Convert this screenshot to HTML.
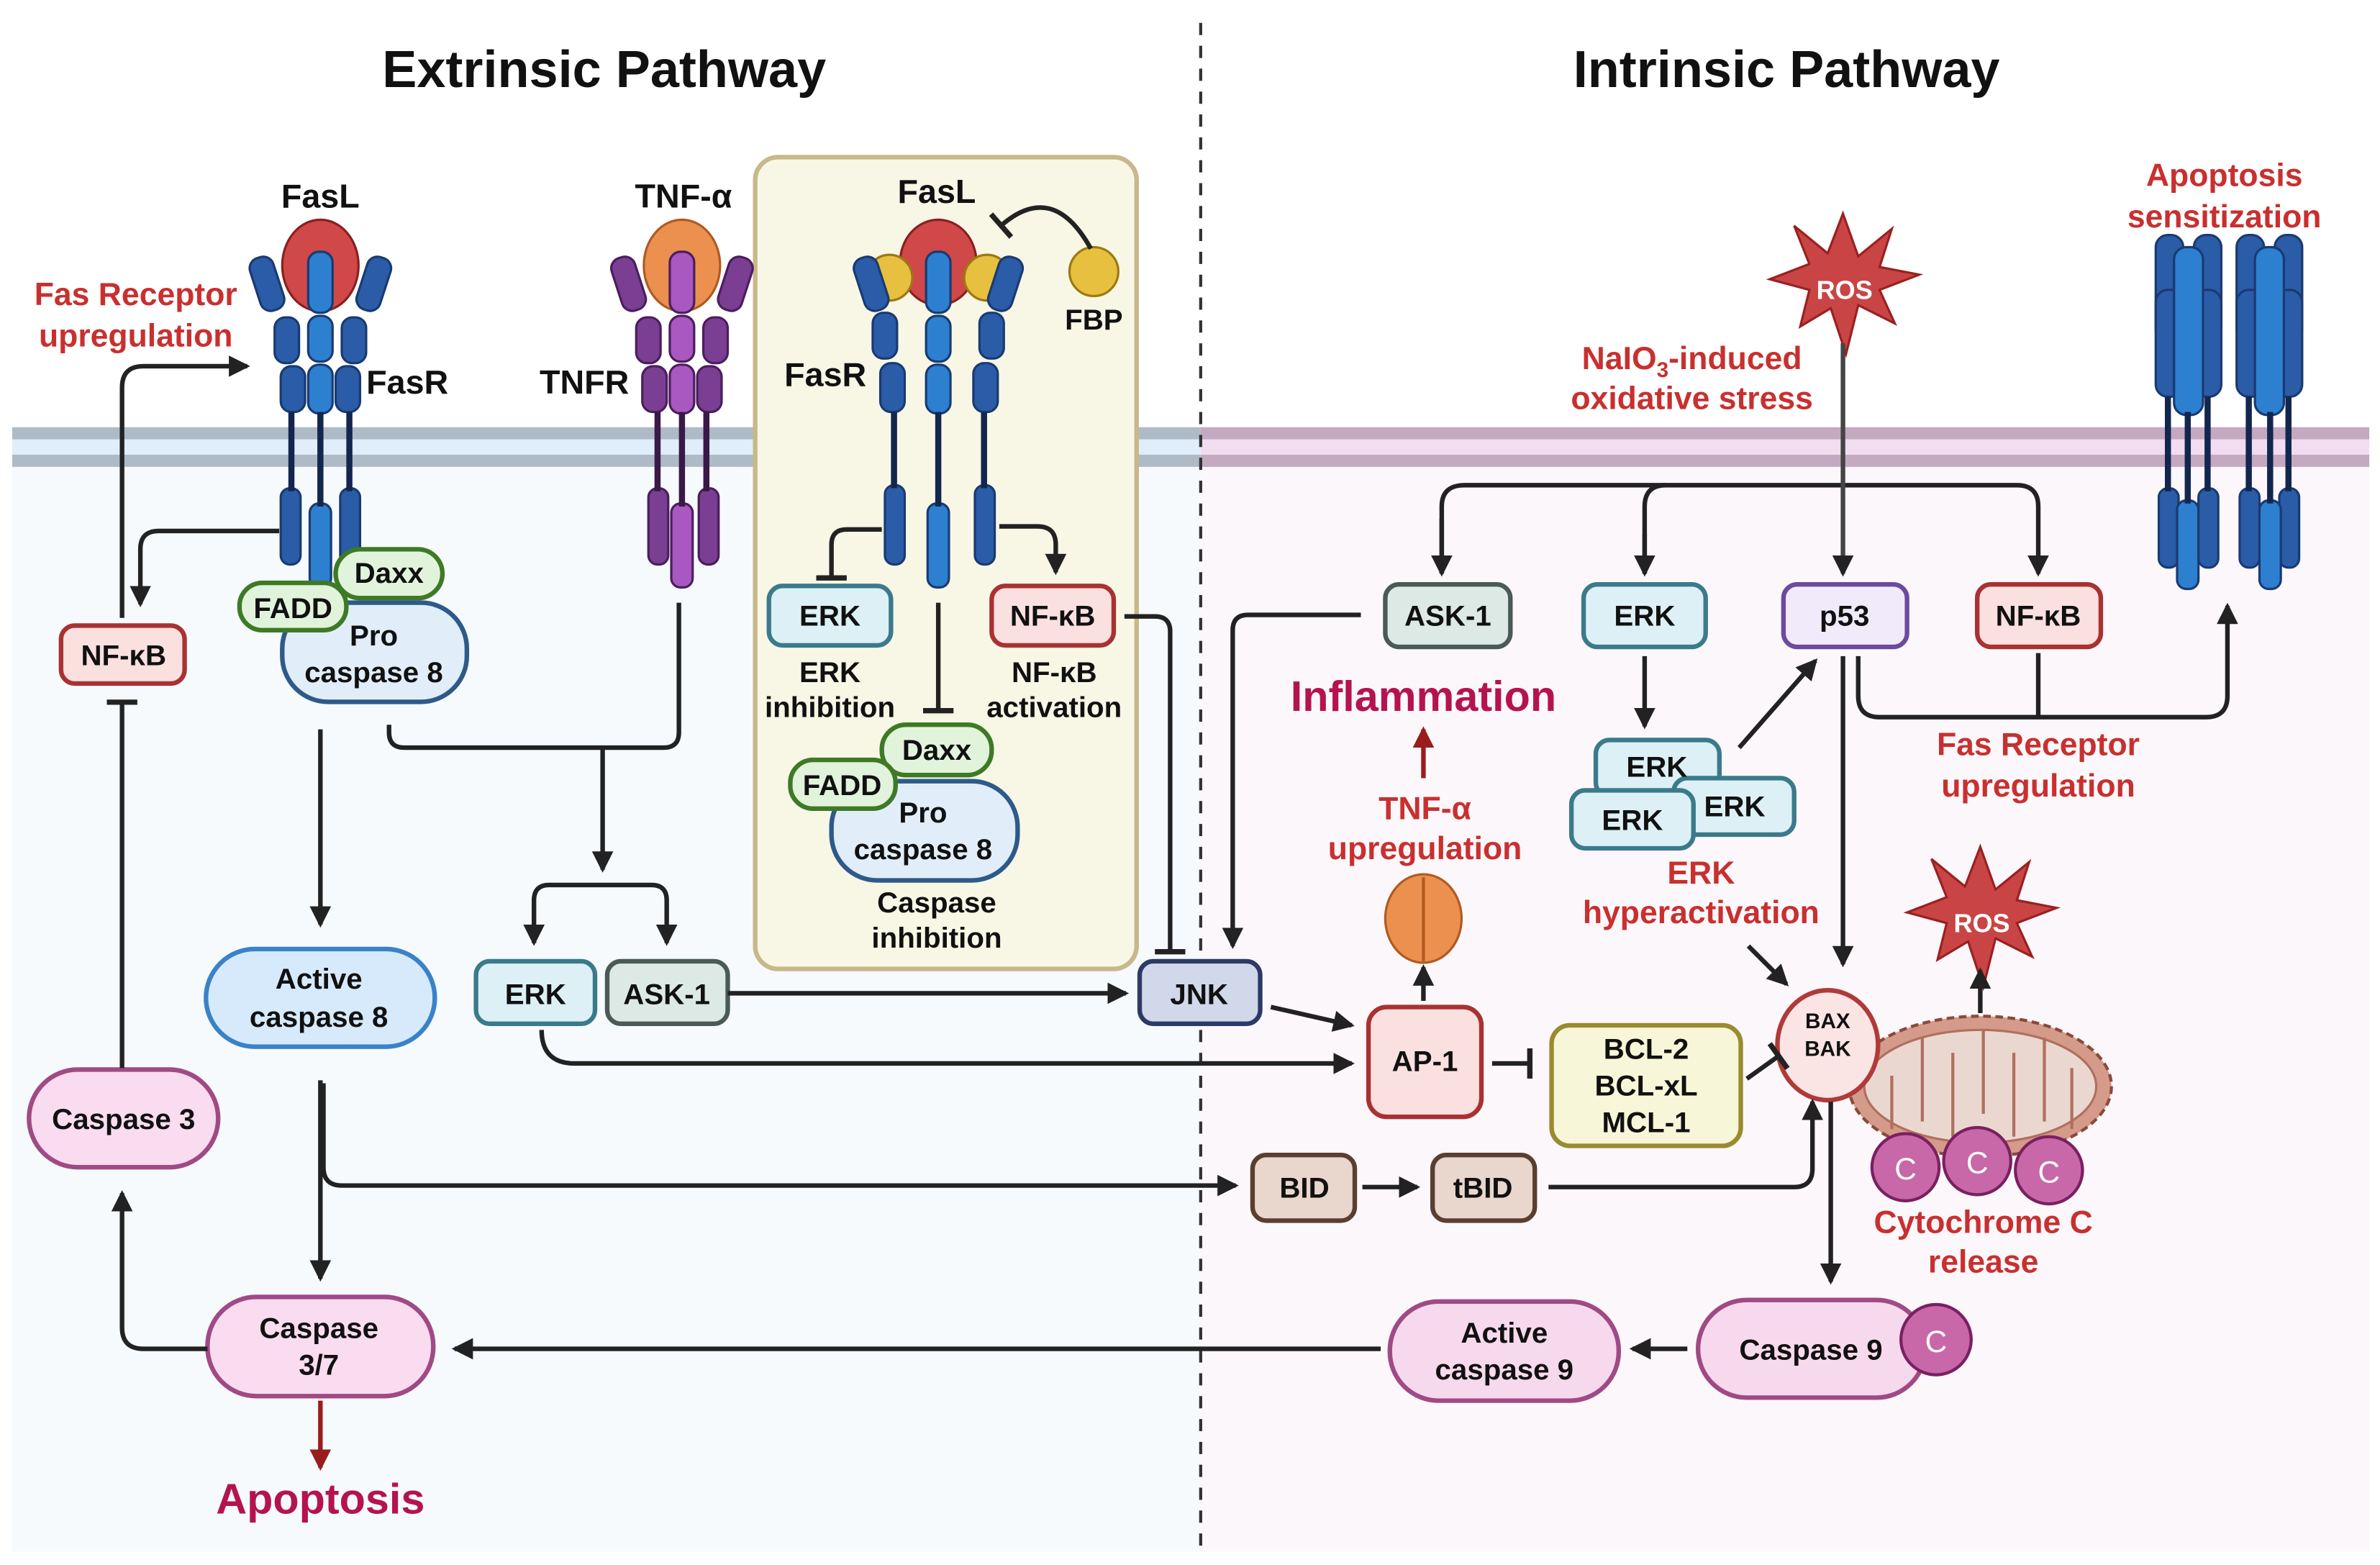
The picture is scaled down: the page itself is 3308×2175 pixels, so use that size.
<!DOCTYPE html>
<html><head><meta charset="utf-8"><style>
html,body{margin:0;padding:0;background:#fff}
svg{display:block}
text{font-family:"Liberation Sans",Arial,sans-serif;font-weight:bold;text-anchor:middle}
.n{font-size:19px;fill:#111}
.r{font-size:21px;fill:#c8302f}
.lb{font-size:22px;fill:#111}
</style></head><body>
<svg width="3308" height="2175" viewBox="0 0 1560 1025.7" xmlns="http://www.w3.org/2000/svg">
<defs>
<marker id="a" markerUnits="userSpaceOnUse" markerWidth="16" markerHeight="16" refX="12" refY="7" orient="auto"><path d="M0,0 L14,7 L0,14 Z" fill="#222"/></marker>
<marker id="ar" markerUnits="userSpaceOnUse" markerWidth="16" markerHeight="16" refX="12" refY="7" orient="auto"><path d="M0,0 L14,7 L0,14 Z" fill="#9a1c1c"/></marker>
<marker id="t" markerUnits="userSpaceOnUse" markerWidth="4" markerHeight="20" refX="2" refY="10" orient="auto"><rect x="0" y="0" width="3.5" height="20" fill="#222"/></marker>
</defs>
<rect width="1560" height="1026" fill="#fff"/>
<rect x="8" y="282" width="779" height="735" fill="#f6fafd"/>
<rect x="787" y="282" width="766" height="735" fill="#fcf7fb"/>
<rect x="8" y="280" width="779" height="8" fill="#aebbc7"/>
<rect x="8" y="288" width="779" height="10" fill="#dfeefa"/>
<rect x="8" y="298" width="779" height="8" fill="#aebbc7"/>
<rect x="787" y="280" width="766" height="8" fill="#c4a9c1"/>
<rect x="787" y="288" width="766" height="10" fill="#f2dcf0"/>
<rect x="787" y="298" width="766" height="8" fill="#c4a9c1"/>
<line x1="787" y1="15" x2="787" y2="1017" stroke="#333" stroke-width="2" stroke-dasharray="8,7"/>
<text x="396" y="57" style="font-size:34px" fill="#111">Extrinsic Pathway</text>
<text x="1171" y="57" style="font-size:34px" fill="#111">Intrinsic Pathway</text>
<rect x="495" y="103" width="250" height="532" rx="15" fill="#f8f7e6" stroke="#c8b88a" stroke-width="3"/>

<!-- FasR left -->
<g stroke="#1a3a70" stroke-width="1.5">
<ellipse cx="210" cy="174" rx="25" ry="30" fill="#d04848" stroke="#8a2020"/>
<g fill="#2a5ca8">
<rect x="167" y="168" width="16" height="36" rx="7" transform="rotate(-18 175 186)"/>
<rect x="237" y="168" width="16" height="36" rx="7" transform="rotate(18 245 186)"/>
<rect x="180" y="208" width="16" height="30" rx="7"/><rect x="224" y="208" width="16" height="30" rx="7"/>
<rect x="184" y="240" width="16" height="30" rx="7"/><rect x="220" y="240" width="16" height="30" rx="7"/>
<rect x="184" y="320" width="13" height="50" rx="6"/><rect x="223" y="320" width="13" height="50" rx="6"/>
</g>
<g fill="#2d7fd0"><rect x="202" y="165" width="16" height="40" rx="7"/><rect x="202" y="207" width="16" height="30" rx="7"/><rect x="202" y="239" width="16" height="32" rx="7"/><rect x="203" y="330" width="14" height="55" rx="6"/></g>
</g>
<g stroke="#13264d" stroke-width="4"><line x1="191" y1="270" x2="191" y2="322"/><line x1="210" y1="270" x2="210" y2="332"/><line x1="229" y1="270" x2="229" y2="322"/></g>

<!-- TNFR -->
<g stroke="#4a1e5c" stroke-width="1.5">
<ellipse cx="447" cy="174" rx="25" ry="30" fill="#ec9050" stroke="#b05a20"/>
<g fill="#7a3e92">
<rect x="404" y="168" width="16" height="36" rx="7" transform="rotate(-18 412 186)"/>
<rect x="474" y="168" width="16" height="36" rx="7" transform="rotate(18 482 186)"/>
<rect x="417" y="208" width="16" height="30" rx="7"/><rect x="461" y="208" width="16" height="30" rx="7"/>
<rect x="421" y="240" width="16" height="30" rx="7"/><rect x="457" y="240" width="16" height="30" rx="7"/>
<rect x="425" y="320" width="13" height="50" rx="6"/><rect x="458" y="320" width="13" height="50" rx="6"/>
</g>
<g fill="#a858c0"><rect x="439" y="165" width="16" height="40" rx="7"/><rect x="439" y="207" width="16" height="30" rx="7"/><rect x="439" y="239" width="16" height="32" rx="7"/><rect x="440" y="330" width="14" height="55" rx="6"/></g>
</g>
<g stroke="#3a1848" stroke-width="4"><line x1="431" y1="270" x2="431" y2="322"/><line x1="447" y1="270" x2="447" y2="332"/><line x1="463" y1="270" x2="463" y2="322"/></g>

<!-- FasR box -->
<g stroke="#1a3a70" stroke-width="1.5">
<ellipse cx="615" cy="172" rx="25" ry="28" fill="#d04848" stroke="#8a2020"/>
<circle cx="583" cy="182" r="15" fill="#e8c040" stroke="#9a7a10"/><circle cx="647" cy="182" r="15" fill="#e8c040" stroke="#9a7a10"/>
<circle cx="717" cy="178" r="16" fill="#e8c040" stroke="#9a7a10"/>
<g fill="#2a5ca8">
<rect x="563" y="168" width="16" height="36" rx="7" transform="rotate(-18 571 186)"/>
<rect x="651" y="168" width="16" height="36" rx="7" transform="rotate(18 659 186)"/>
<rect x="572" y="205" width="16" height="30" rx="7"/><rect x="642" y="205" width="16" height="30" rx="7"/>
<rect x="577" y="238" width="16" height="32" rx="7"/><rect x="638" y="238" width="16" height="32" rx="7"/>
<rect x="580" y="318" width="13" height="52" rx="6"/><rect x="639" y="318" width="13" height="52" rx="6"/>
</g>
<g fill="#2d7fd0"><rect x="607" y="165" width="16" height="40" rx="7"/><rect x="607" y="207" width="16" height="30" rx="7"/><rect x="607" y="239" width="16" height="32" rx="7"/><rect x="608" y="330" width="14" height="55" rx="6"/></g>
</g>
<g stroke="#13264d" stroke-width="4"><line x1="586" y1="270" x2="586" y2="320"/><line x1="615" y1="270" x2="615" y2="332"/><line x1="645" y1="270" x2="645" y2="320"/></g>

<!-- right receptors -->
<g stroke="#1a3a70" stroke-width="1.5">
<g fill="#2a5ca8">
<rect x="1413" y="154" width="18" height="70" rx="8"/><rect x="1438" y="154" width="18" height="70" rx="8"/>
<rect x="1413" y="190" width="18" height="70" rx="8"/><rect x="1438" y="190" width="18" height="70" rx="8"/>
<rect x="1466" y="154" width="18" height="70" rx="8"/><rect x="1491" y="154" width="18" height="70" rx="8"/>
<rect x="1466" y="190" width="18" height="70" rx="8"/><rect x="1491" y="190" width="18" height="70" rx="8"/>
<rect x="1415" y="320" width="13" height="52" rx="6"/><rect x="1441" y="320" width="13" height="52" rx="6"/>
<rect x="1468" y="320" width="13" height="52" rx="6"/><rect x="1494" y="320" width="13" height="52" rx="6"/>
</g>
<g fill="#2d7fd0"><rect x="1425" y="162" width="19" height="110" rx="8"/><rect x="1478" y="162" width="19" height="110" rx="8"/><rect x="1427" y="328" width="14" height="58" rx="6"/><rect x="1481" y="328" width="14" height="58" rx="6"/></g>
</g>
<g stroke="#13264d" stroke-width="4"><line x1="1421" y1="260" x2="1421" y2="322"/><line x1="1434" y1="270" x2="1434" y2="330"/><line x1="1447" y1="260" x2="1447" y2="322"/><line x1="1474" y1="260" x2="1474" y2="322"/><line x1="1488" y1="270" x2="1488" y2="330"/><line x1="1500" y1="260" x2="1500" y2="322"/></g>

<!-- labels -->
<text x="210" y="136" class="lb">FasL</text><text x="448" y="136" class="lb">TNF-α</text><text x="614" y="133" class="lb">FasL</text>
<text x="267" y="258" class="lb">FasR</text><text x="383" y="258" class="lb">TNFR</text><text x="541" y="253" class="lb">FasR</text>
<text x="717" y="216" class="n">FBP</text>
<text x="89" y="200" class="r">Fas Receptor</text><text x="89" y="227" class="r">upregulation</text>
<text x="1458" y="122" class="r">Apoptosis</text><text x="1458" y="149" class="r">sensitization</text>
<text x="1109" y="242" class="r">NaIO<tspan font-size="14" dy="5">3</tspan><tspan dy="-5">-induced</tspan></text><text x="1109" y="268" class="r">oxidative stress</text>
<text x="1336" y="495" class="r">Fas Receptor</text><text x="1336" y="522" class="r">upregulation</text>
<text x="934" y="537" class="r">TNF-α</text><text x="934" y="563" class="r">upregulation</text>
<text x="1115" y="579" class="r">ERK</text><text x="1115" y="605" class="r">hyperactivation</text>
<text x="1300" y="808" class="r">Cytochrome C</text><text x="1300" y="834" class="r">release</text>
<text x="933" y="466" style="font-size:28px" fill="#b5134f">Inflammation</text>
<text x="210" y="992" style="font-size:28px" fill="#b5134f">Apoptosis</text>
<text x="544" y="447" class="n">ERK</text><text x="544" y="470" class="n">inhibition</text>
<text x="691" y="447" class="n">NF-κB</text><text x="691" y="470" class="n">activation</text>
<text x="614" y="598" class="n">Caspase</text><text x="614" y="621" class="n">inhibition</text>

<!-- ROS stars -->
<g>
<polygon points="1208,140 1218,168 1240,150 1232,175 1258,180 1232,190 1242,212 1218,200 1210,232 1200,202 1180,214 1186,190 1160,183 1186,173 1176,148 1198,166" fill="#c94545" stroke="#9a2020" stroke-width="1.5"/>
<text x="1209" y="196" style="font-size:17px" fill="#fff">ROS</text>
<polygon points="1298,555 1308,583 1330,565 1322,590 1348,595 1322,605 1332,627 1308,615 1300,647 1290,617 1270,629 1276,605 1250,598 1276,588 1266,563 1288,581" fill="#c94545" stroke="#9a2020" stroke-width="1.5"/>
<text x="1299" y="611" style="font-size:17px" fill="#fff">ROS</text>
</g>

<!-- mitochondria -->
<ellipse cx="1298" cy="712" rx="86" ry="46" fill="#d49a8a" stroke="#8a4a3a" stroke-width="2" stroke-dasharray="5,3"/>
<ellipse cx="1298" cy="712" rx="76" ry="37" fill="#ead8d0" stroke="#b07060" stroke-width="1.5"/>
<g stroke="#b07060" stroke-width="2" fill="none"><path d="M1240 740 V705 M1260 680 V735 M1280 690 V745 M1300 675 V730 M1320 690 V745 M1340 680 V735 M1358 700 V740"/></g>
<g fill="#c868a8" stroke="#7a2060" stroke-width="2"><circle cx="1249" cy="765" r="22"/><circle cx="1296" cy="761" r="22"/><circle cx="1343" cy="767" r="22"/><circle cx="1269" cy="878" r="23"/></g>
<g font-size="20" fill="#fff" style="font-weight:normal"><text x="1249" y="773" style="font-weight:normal">C</text><text x="1296" y="769" style="font-weight:normal">C</text><text x="1343" y="775" style="font-weight:normal">C</text></g>

<!-- nodes -->
<g stroke-width="3">
<rect x="40" y="410" width="81" height="38" rx="9" fill="#fbe0e0" stroke="#a83232"/>
<rect x="185" y="395" width="121" height="65" rx="30" fill="#e1eefa" stroke="#2e5a8a"/>
<rect x="220" y="360" width="70" height="32" rx="16" fill="#e2f3dc" stroke="#3e7a26"/>
<rect x="157" y="382" width="70" height="31" rx="15" fill="#e2f3dc" stroke="#3e7a26"/>
<rect x="135" y="622" width="150" height="64" rx="32" fill="#d6eafc" stroke="#3a82c8"/>
<rect x="19" y="701" width="124" height="64" rx="32" fill="#f9dcef" stroke="#a04a85"/>
<rect x="136" y="850" width="148" height="65" rx="32" fill="#f9dcef" stroke="#a04a85"/>
<rect x="312" y="630" width="78" height="41" rx="9" fill="#dcf0f5" stroke="#3b7a8a"/>
<rect x="398" y="630" width="79" height="41" rx="9" fill="#dde9e4" stroke="#4a5a55"/>
<rect x="747" y="630" width="79" height="41" rx="9" fill="#d0d8ea" stroke="#2c3a66"/>
<rect x="504" y="384" width="80" height="39" rx="9" fill="#dcf0f5" stroke="#3b7a8a"/>
<rect x="650" y="384" width="80" height="39" rx="9" fill="#fbe0e0" stroke="#a83232"/>
<rect x="545" y="512" width="122" height="65" rx="30" fill="#e1eefa" stroke="#2e5a8a"/>
<rect x="578" y="475" width="72" height="33" rx="16" fill="#e2f3dc" stroke="#3e7a26"/>
<rect x="518" y="498" width="69" height="32" rx="15" fill="#e2f3dc" stroke="#3e7a26"/>
<rect x="908" y="383" width="82" height="41" rx="9" fill="#dde9e4" stroke="#4a5a55"/>
<rect x="1038" y="383" width="80" height="41" rx="9" fill="#dcf0f5" stroke="#3b7a8a"/>
<rect x="1169" y="383" width="81" height="41" rx="9" fill="#f1eafb" stroke="#6c4a9c"/>
<rect x="1296" y="383" width="81" height="41" rx="9" fill="#fbe0e0" stroke="#a83232"/>
<rect x="1046" y="485" width="81" height="37" rx="9" fill="#dcf0f5" stroke="#3b7a8a"/>
<rect x="1097" y="510" width="79" height="37" rx="9" fill="#dcf0f5" stroke="#3b7a8a"/>
<rect x="1030" y="518" width="80" height="38" rx="9" fill="#dcf0f5" stroke="#3b7a8a"/>
<rect x="897" y="660" width="74" height="72" rx="12" fill="#fbe0e0" stroke="#a83232"/>
<rect x="1017" y="672" width="124" height="79" rx="12" fill="#f8f6d8" stroke="#9a8a30"/>
<ellipse cx="1198" cy="685" rx="33" ry="36" fill="#fbe4e4" stroke="#b03a3a"/>
<rect x="821" y="757" width="67" height="43" rx="9" fill="#e9d6cc" stroke="#5a3e30"/>
<rect x="939" y="757" width="67" height="43" rx="9" fill="#e9d6cc" stroke="#5a3e30"/>
<rect x="1113" y="852" width="149" height="64" rx="32" fill="#f7d9ed" stroke="#a04a85"/>
<rect x="911" y="853" width="150" height="65" rx="32" fill="#f7d9ed" stroke="#a04a85"/>
</g>
<circle cx="1269" cy="878" r="23" fill="#c868a8" stroke="#7a2060" stroke-width="2"/>
<text x="1269" y="886" style="font-size:20px;font-weight:normal" fill="#fff">C</text>

<g class="n">
<text x="81" y="436" class="n">NF-κB</text>
<text x="255" y="382" class="n">Daxx</text><text x="192" y="405" class="n">FADD</text>
<text x="245" y="423" class="n">Pro</text><text x="245" y="447" class="n">caspase 8</text>
<text x="209" y="648" class="n">Active</text><text x="209" y="673" class="n">caspase 8</text>
<text x="81" y="740" class="n">Caspase 3</text>
<text x="209" y="877" class="n">Caspase</text><text x="209" y="901" class="n">3/7</text>
<text x="351" y="658" class="n">ERK</text><text x="437" y="658" class="n">ASK-1</text><text x="786" y="658" class="n">JNK</text>
<text x="544" y="410" class="n">ERK</text><text x="690" y="410" class="n">NF-κB</text>
<text x="614" y="498" class="n">Daxx</text><text x="552" y="521" class="n">FADD</text>
<text x="605" y="539" class="n">Pro</text><text x="605" y="563" class="n">caspase 8</text>
<text x="949" y="410" class="n">ASK-1</text><text x="1078" y="410" class="n">ERK</text><text x="1209" y="410" class="n">p53</text><text x="1336" y="410" class="n">NF-κB</text>
<text x="1086" y="509" class="n">ERK</text><text x="1137" y="535" class="n">ERK</text><text x="1070" y="544" class="n">ERK</text>
<text x="934" y="702" class="n">AP-1</text>
<text x="1079" y="694" class="n">BCL-2</text><text x="1079" y="718" class="n">BCL-xL</text><text x="1079" y="742" class="n">MCL-1</text>
<text x="1198" y="674" style="font-size:14px" fill="#111">BAX</text><text x="1198" y="692" style="font-size:14px" fill="#111">BAK</text>
<text x="855" y="785" class="n">BID</text><text x="972" y="785" class="n">tBID</text>
<text x="1187" y="891" class="n">Caspase 9</text>
<text x="986" y="880" class="n">Active</text><text x="986" y="904" class="n">caspase 9</text>
</g>

<!-- TNF trimer near AP-1 -->
<ellipse cx="933" cy="602" rx="25" ry="29" fill="#ec9050" stroke="#b05a20" stroke-width="1.5"/>
<line x1="933" y1="575" x2="933" y2="630" stroke="#b05a20" stroke-width="2"/>

<!-- connectors -->
<g fill="none" stroke="#222" stroke-width="3">
<path d="M183 348 H104 Q92 348 92 360 V396" marker-end="url(#a)"/>
<path d="M80 405 V254 Q80 240 94 240 H162" marker-end="url(#a)"/>
<path d="M80 700 V460" marker-end="url(#t)"/>
<path d="M136 884 H94 Q80 884 80 870 V782" marker-end="url(#a)"/>
<path d="M210 478 V606" marker-end="url(#a)"/>
<path d="M210 708 V838" marker-end="url(#a)"/>
<path d="M212 710 V765 Q212 777 224 777 H810" marker-end="url(#a)"/>
<path d="M255 475 V480 Q255 490 265 490 H435 Q445 490 445 480 V395"/>
<path d="M395 490 V570" marker-end="url(#a)"/>
<path d="M350 618 V590 Q350 580 360 580 H427 Q437 580 437 590 V618" marker-end="url(#a)"/>
<path d="M350 608 V618" marker-end="url(#a)"/>
<path d="M477 651 H738" marker-end="url(#a)"/>
<path d="M355 675 Q355 697 377 697 H886" marker-end="url(#a)"/>
<path d="M833 660 L886 672" marker-end="url(#a)"/>
<path d="M578 347 H555 Q545 347 545 357 V379" marker-end="url(#t)"/>
<path d="M655 345 H680 Q692 345 692 357 V375" marker-end="url(#a)"/>
<path d="M615 395 V466" marker-end="url(#t)"/>
<path d="M737 404 H757 Q767 404 767 414 V624" marker-end="url(#t)"/>
<path d="M715 163 Q690 118 656 148" marker-end="url(#t)"/>
<path d="M892 403 H818 Q808 403 808 413 V620" marker-end="url(#a)"/>
<path d="M945 376 V332 Q945 318 960 318 H1322 Q1336 318 1336 332 V376" marker-end="url(#a)"/>
<path d="M945 340 V376" marker-end="url(#a)"/>
<path d="M1078 376 V332 Q1078 318 1092 318" />
<path d="M1078 350 V376" marker-end="url(#a)"/>
<path d="M1208 225 V376" marker-end="url(#a)" stroke="#444"/>
<path d="M1078 430 V476" marker-end="url(#a)"/>
<path d="M1140 490 L1190 433" marker-end="url(#a)"/>
<path d="M1208 430 V632" marker-end="url(#a)"/>
<path d="M1218 430 V456 Q1218 470 1232 470 H1446 Q1460 470 1460 456 V397" marker-end="url(#a)"/>
<path d="M1336 428 V470"/>
<path d="M1146 620 L1171 645" marker-end="url(#a)"/>
<path d="M933 656 V634" marker-end="url(#a)"/>
<path d="M978 697 H1003" marker-end="url(#t)"/>
<path d="M1145 707 L1166 692" marker-end="url(#t)"/>
<path d="M1015 778 H1176 Q1188 778 1188 766 V722" marker-end="url(#a)"/>
<path d="M893 778 H929" marker-end="url(#a)"/>
<path d="M1298 664 V636" marker-end="url(#a)"/>
<path d="M1200 722 V840" marker-end="url(#a)"/>
<path d="M1106 884 H1070" marker-end="url(#a)"/>
<path d="M905 884 H298" marker-end="url(#a)"/>
</g>
<g fill="none" stroke="#9a1c1c" stroke-width="3">
<path d="M210 918 V962" marker-end="url(#ar)"/>
<path d="M933 510 V478" marker-end="url(#ar)"/>
</g>
</svg>
</body></html>
